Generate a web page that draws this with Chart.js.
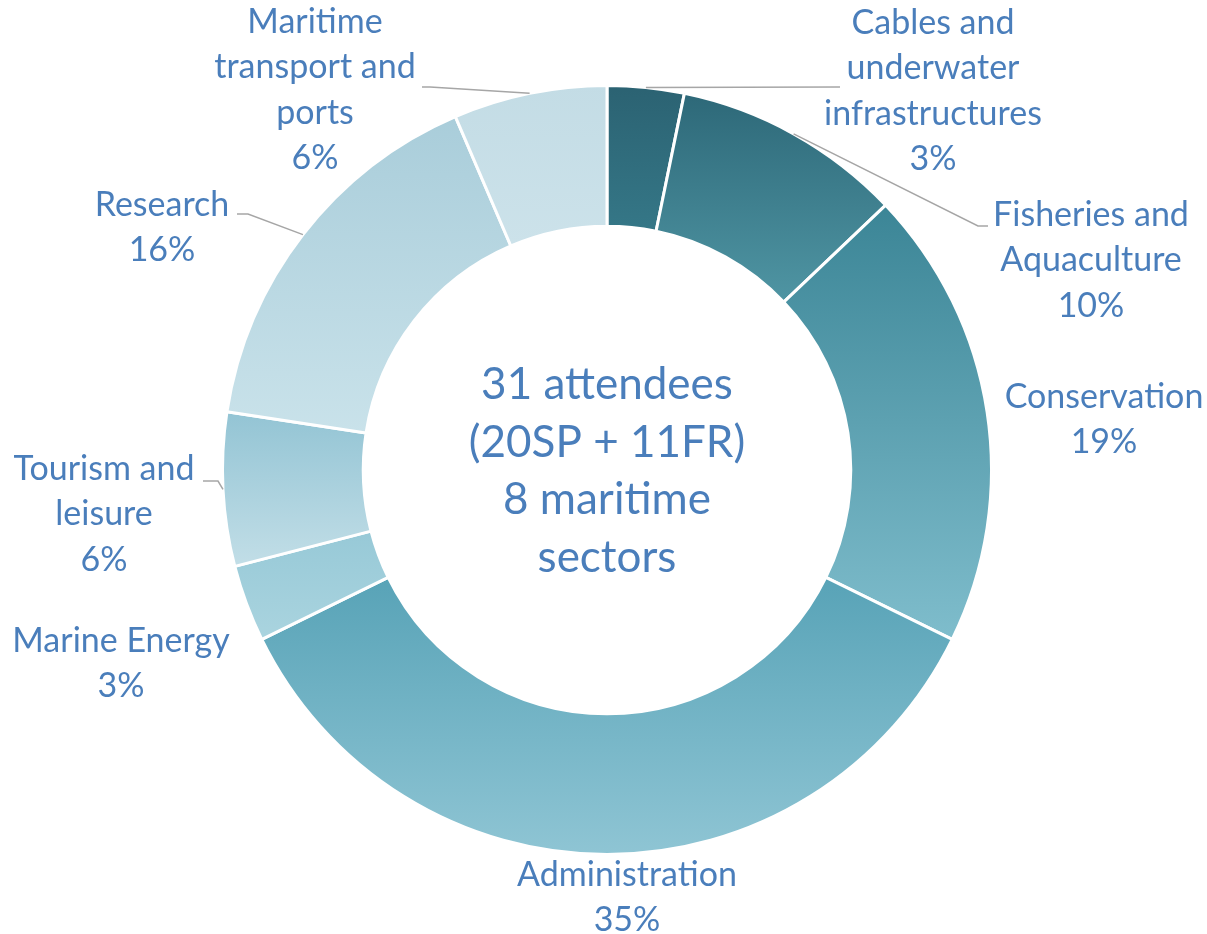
<!DOCTYPE html>
<html>
<head>
<meta charset="utf-8">
<script src="https://cdn.jsdelivr.net/npm/chart.js@4.4.1/dist/chart.umd.min.js"></script>
<style>
  html, body { margin: 0; padding: 0; background: #fff; }
  #wrap { width: 1207px; height: 934px; }
</style>
</head>
<body>
<div id="wrap"><canvas id="sectorChart" width="1207" height="934"></canvas></div>
<script>
// data
const categories = [
  "Cables and underwater infrastructures",
  "Fisheries and Aquaculture",
  "Conservation",
  "Administration",
  "Marine Energy",
  "Tourism and leisure",
  "Research",
  "Maritime transport and ports",
];
const attendees = [1, 3, 6, 11, 1, 2, 5, 2];
const labelLines = [
  ["Cables and", "underwater", "infrastructures"],
  ["Fisheries and", "Aquaculture"],
  ["Conservation"],
  ["Administration"],
  ["Marine Energy"],
  ["Tourism and", "leisure"],
  ["Research"],
  ["Maritime", "transport and", "ports"],
];
const centerLines = ["31 attendees", "(20SP + 11FR)", "8 maritime", "sectors"];

// styles
const topColors = ["#2b6272", "#2d6878", "#3b8596", "#58a3b7", "#97c9d7", "#93c4d4", "#a9cdda", "#c3dce5"];
const bottomColors = ["#357787", "#4f95a3", "#7fbdcc", "#8fc5d4", "#aad4df", "#c2dee7", "#c9e2ea", "#cce2ea"];
const textColor = "#4a7ebb";
const cutoutRatio = 0.634;

// label placement relative to the doughnut centre, plus leader elbow points
const labelOffsets = [[326, -447], [484, -255], [497, -73], [20, 405], [-486, 171], [-503, -1], [-445, -265], [-292, -448]];
const leaderBends = [
  [[233, -383]],
  [[371, -244], [381, -244]],
  null, null, null,
  [[-389, 11], [-404, 11]],
  [[-359, -256], [-370, -256]],
  [[-177, -383], [-185, -383]],
];

const total = attendees.reduce((a, b) => a + b, 0);

function sliceFill(context) {
  const chart = context.chart;
  const area = chart.chartArea;
  const i = context.dataIndex;
  if (!area) return topColors[i];
  const cx = (area.left + area.right) / 2;
  const cy = (area.top + area.bottom) / 2;
  const R = Math.min(area.width, area.height) / 2;
  const r = R * cutoutRatio;
  let before = 0;
  for (let k = 0; k < i; k++) before += attendees[k];
  const a0 = (before / total) * 2 * Math.PI - Math.PI / 2;
  const a1 = ((before + attendees[i]) / total) * 2 * Math.PI - Math.PI / 2;
  let minY = Infinity, maxY = -Infinity;
  for (let s = 0; s <= 40; s++) {
    const a = a0 + (a1 - a0) * s / 40;
    [R, r].forEach((rad) => {
      const y = cy + rad * Math.sin(a);
      minY = Math.min(minY, y);
      maxY = Math.max(maxY, y);
    });
  }
  const g = chart.ctx.createLinearGradient(0, minY, 0, maxY);
  g.addColorStop(0, topColors[i]);
  g.addColorStop(1, bottomColors[i]);
  return g;
}

// labels + leader lines + centre text
const outsideLabels = {
  id: "outsideLabels",
  afterDraw(chart) {
    const ctx = chart.ctx;
    const arcs = chart.getDatasetMeta(0).data;
    const cx = arcs[0].x, cy = arcs[0].y;
    ctx.save();

    // leader lines
    ctx.strokeStyle = "#a6a6a6";
    ctx.lineWidth = 1.5;
    arcs.forEach((arc, i) => {
      const pts = leaderBends[i];
      if (!pts) return;
      const mid = (arc.startAngle + arc.endAngle) / 2;
      const R = arc.outerRadius;
      ctx.beginPath();
      ctx.moveTo(cx + R * Math.cos(mid), cy + R * Math.sin(mid));
      pts.forEach((p) => ctx.lineTo(cx + p[0], cy + p[1]));
      ctx.stroke();
    });

    // category labels
    ctx.fillStyle = textColor;
    ctx.font = "34px Lato";
    ctx.textAlign = "center";
    ctx.textBaseline = "middle";
    arcs.forEach((arc, i) => {
      const pct = Math.round(attendees[i] / total * 100) + "%";
      const lines = labelLines[i].concat([pct]);
      const x = cx + labelOffsets[i][0];
      let y = cy + labelOffsets[i][1];
      lines.forEach((t) => {
        ctx.fillText(t, x, y);
        y += 45.5;
      });
    });

    // centre text
    ctx.font = "44px Lato";
    centerLines.forEach((t, k) => {
      ctx.fillText(t, cx, cy - 85 + k * 57.5);
    });
    ctx.restore();
  },
};

const ctx1 = document.getElementById("sectorChart").getContext("2d");
const sectorChart = new Chart(ctx1, {
  type: "doughnut",
  data: {
    labels: categories,
    datasets: [
      {
        data: attendees,
        backgroundColor: sliceFill,
        borderColor: "#ffffff",
        borderWidth: 3,
      },
    ],
  },
  options: {
    responsive: false,
    animation: false,
    cutout: (cutoutRatio * 100) + "%",
    layout: {
      padding: { left: 100, right: 93, top: 84, bottom: 78 },
    },
    plugins: {
      legend: { display: false },
      tooltip: { enabled: false },
    },
  },
  plugins: [outsideLabels],
});
</script>
</body>
</html>
